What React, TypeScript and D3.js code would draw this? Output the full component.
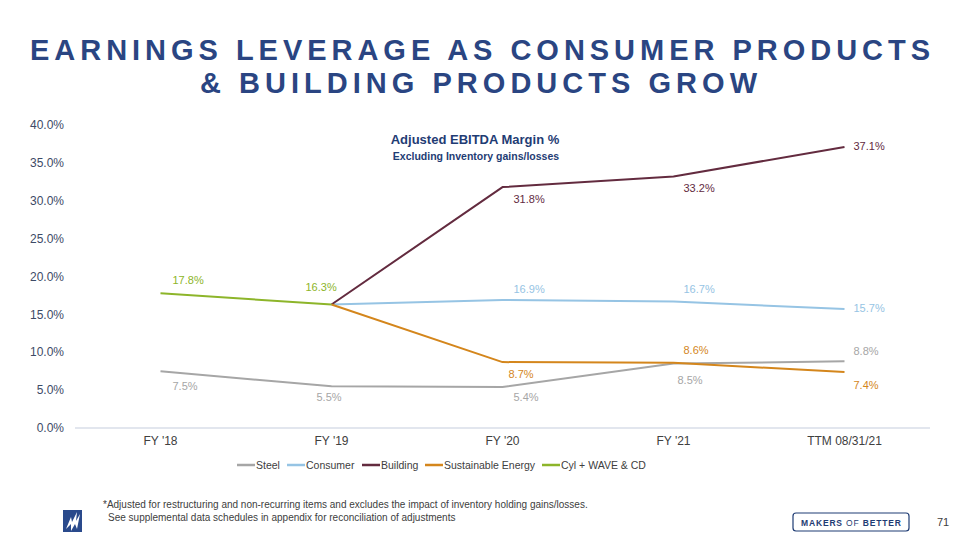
import React from "react";
import * as d3 from "d3";

const categories = ["FY '18", "FY '19", "FY '20", "FY '21", "TTM 08/31/21"];
const steel = [7.5, 5.5, 5.4, 8.5, 8.8];
const consumer = [null, 16.3, 16.9, 16.7, 15.7];
const building = [null, 16.3, 31.8, 33.2, 37.1];
const sustainableEnergy = [null, 16.3, 8.7, 8.6, 7.4];
const cylWave = [17.8, 16.3, null, null, null];
const seriesNames = ["Steel", "Consumer", "Building", "Sustainable Energy", "Cyl + WAVE & CD"];
const yTicks = [0, 5, 10, 15, 20, 25, 30, 35, 40];
// which points carry a printed label
const labelShown = [
  [true, true, true, true, true],
  [false, false, true, true, true],
  [false, false, true, true, true],
  [false, false, true, true, true],
  [true, true, false, false, false],
];

const W = 960, H = 540;
const colors = ["#a6a6a6", "#96c4e4", "#632b3f", "#d4861c", "#8db52a"];
const labelColors = ["#a6a6a6", "#96c4e4", "#632b3f", "#d4861c", "#8db52a"];
// label offsets [dx (left edge), dy (vertical centre)] relative to the point
const labelOffsets: [number, number][][] = [
  [[12, 15], [-15, 11], [11, 10.5], [4, 16.5], [9, -10.5]],
  [[0, 0], [0, 0], [11, -10.5], [10, -12], [9, -1]],
  [[0, 0], [0, 0], [11, 12.5], [10, 12], [9, -0.5]],
  [[0, 0], [0, 0], [6, 12.5], [10, -12.5], [9, 13.5]],
  [[12, -13.5], [-26, -17], [0, 0], [0, 0], [0, 0]],
];

export default function App() {
  const allSeries = [steel, consumer, building, sustainableEnergy, cylWave];
  const x = d3.scaleBand<string>().domain(categories).range([75, 930]);
  const cx = (c: string) => (x(c) ?? 0) + x.bandwidth() / 2;
  const y = d3.scaleLinear().domain([0, 40]).range([428, 125]);
  const fmt = d3.format(".1f");
  const line = d3
    .line<number | null>()
    .defined((d) => d !== null)
    .x((_, i) => cx(categories[i]))
    .y((d) => y(d as number));

  const font = "Liberation Sans, Arial, sans-serif";
  const legendX = [237, 287, 362, 425, 542];

  return (
    <svg width={W} height={H} style={{ position: "absolute", left: 0, top: 0, background: "#fff" }} fontFamily={font}>
      <rect width={W} height={H} fill="#fff" />
      {/* Title */}
      <text x={30} y={60} fontSize={29} fontWeight="bold" fill="#2a4582" textLength={900} lengthAdjust="spacing">
        EARNINGS LEVERAGE AS CONSUMER PRODUCTS
      </text>
      <text x={200} y={93} fontSize={29} fontWeight="bold" fill="#2a4582" textLength={557} lengthAdjust="spacing">
        &amp; BUILDING PRODUCTS GROW
      </text>

      {/* Chart subtitle */}
      <text x={475} y={144} textAnchor="middle" fontSize={13} fontWeight="bold" fill="#1f3c74">
        Adjusted EBITDA Margin %
      </text>
      <text x={476} y={160} textAnchor="middle" fontSize={10.5} fontWeight="bold" fill="#1f3c74">
        Excluding Inventory gains/losses
      </text>

      {/* Y axis ticks */}
      {yTicks.map((t) => (
        <text key={t} x={64} y={y(t)} dy="0.35em" textAnchor="end" fontSize={12} fill="#3d4a66">
          {fmt(t)}%
        </text>
      ))}
      {/* baseline */}
      <line x1={75} x2={930} y1={y(0)} y2={y(0)} stroke="#d9dee8" strokeWidth={1.5} />
      {/* X labels */}
      {categories.map((c) => (
        <text key={c} x={cx(c)} y={445} textAnchor="middle" fontSize={12} fill="#404040">
          {c}
        </text>
      ))}

      {/* lines */}
      {allSeries.map((s, si) => (
        <path key={si} d={line(s) ?? ""} fill="none" stroke={colors[si]} strokeWidth={2} strokeLinejoin="round" />
      ))}

      {/* data labels */}
      {allSeries.map((s, si) =>
        s.map((v, i) =>
          v !== null && labelShown[si][i] ? (
            <text
              key={`${si}-${i}`}
              x={cx(categories[i]) + labelOffsets[si][i][0]}
              y={y(v) + labelOffsets[si][i][1]}
              dy="0.35em"
              fontSize={11}
              fill={labelColors[si]}
            >
              {fmt(v)}%
            </text>
          ) : null
        )
      )}

      {/* legend */}
      {seriesNames.map((n, i) => (
        <g key={n} transform={`translate(${legendX[i]},465)`}>
          <line x1={0} x2={18} y1={0} y2={0} stroke={colors[i]} strokeWidth={2.5} />
          <text x={19} y={0} dy="0.35em" fontSize={10.5} fill="#404040">
            {n}
          </text>
        </g>
      ))}

      {/* footnote */}
      <text x={103} y={508} fontSize={10} fill="#404040">
        *Adjusted for restructuring and non-recurring items and excludes the impact of inventory holding gains/losses.
      </text>
      <text x={108} y={521} fontSize={10} fill="#404040">
        See supplemental data schedules in appendix for reconciliation of adjustments
      </text>

      {/* logo */}
      <rect x={63} y={510} width={19} height={22} fill="#2a4a8c" />
      <path d="M66,529 L71,517 L72,522 L77,512 L76,521 L80,514 L77,529 L75,524 L71,531 L71,524 Z" fill="#fff" />

      {/* badge */}
      <path
        d="M796,513 L906,513 Q909,513 909,516 L909,528 Q909,531 906,531 L796,531 Q793,531 793,528 L793,516 Q793,513 796,513 Z"
        fill="none"
        stroke="#1f3c74"
        strokeWidth={1.2}
      />
      <text x={801} y={525.5} fontSize={8.5} fontWeight="bold" fill="#1f3c74" textLength={100} lengthAdjust="spacing">
        MAKERS <tspan fontWeight="normal">OF</tspan> BETTER
      </text>
      <text x={937} y={526} fontSize={11} fill="#404040">
        71
      </text>
    </svg>
  );
}
